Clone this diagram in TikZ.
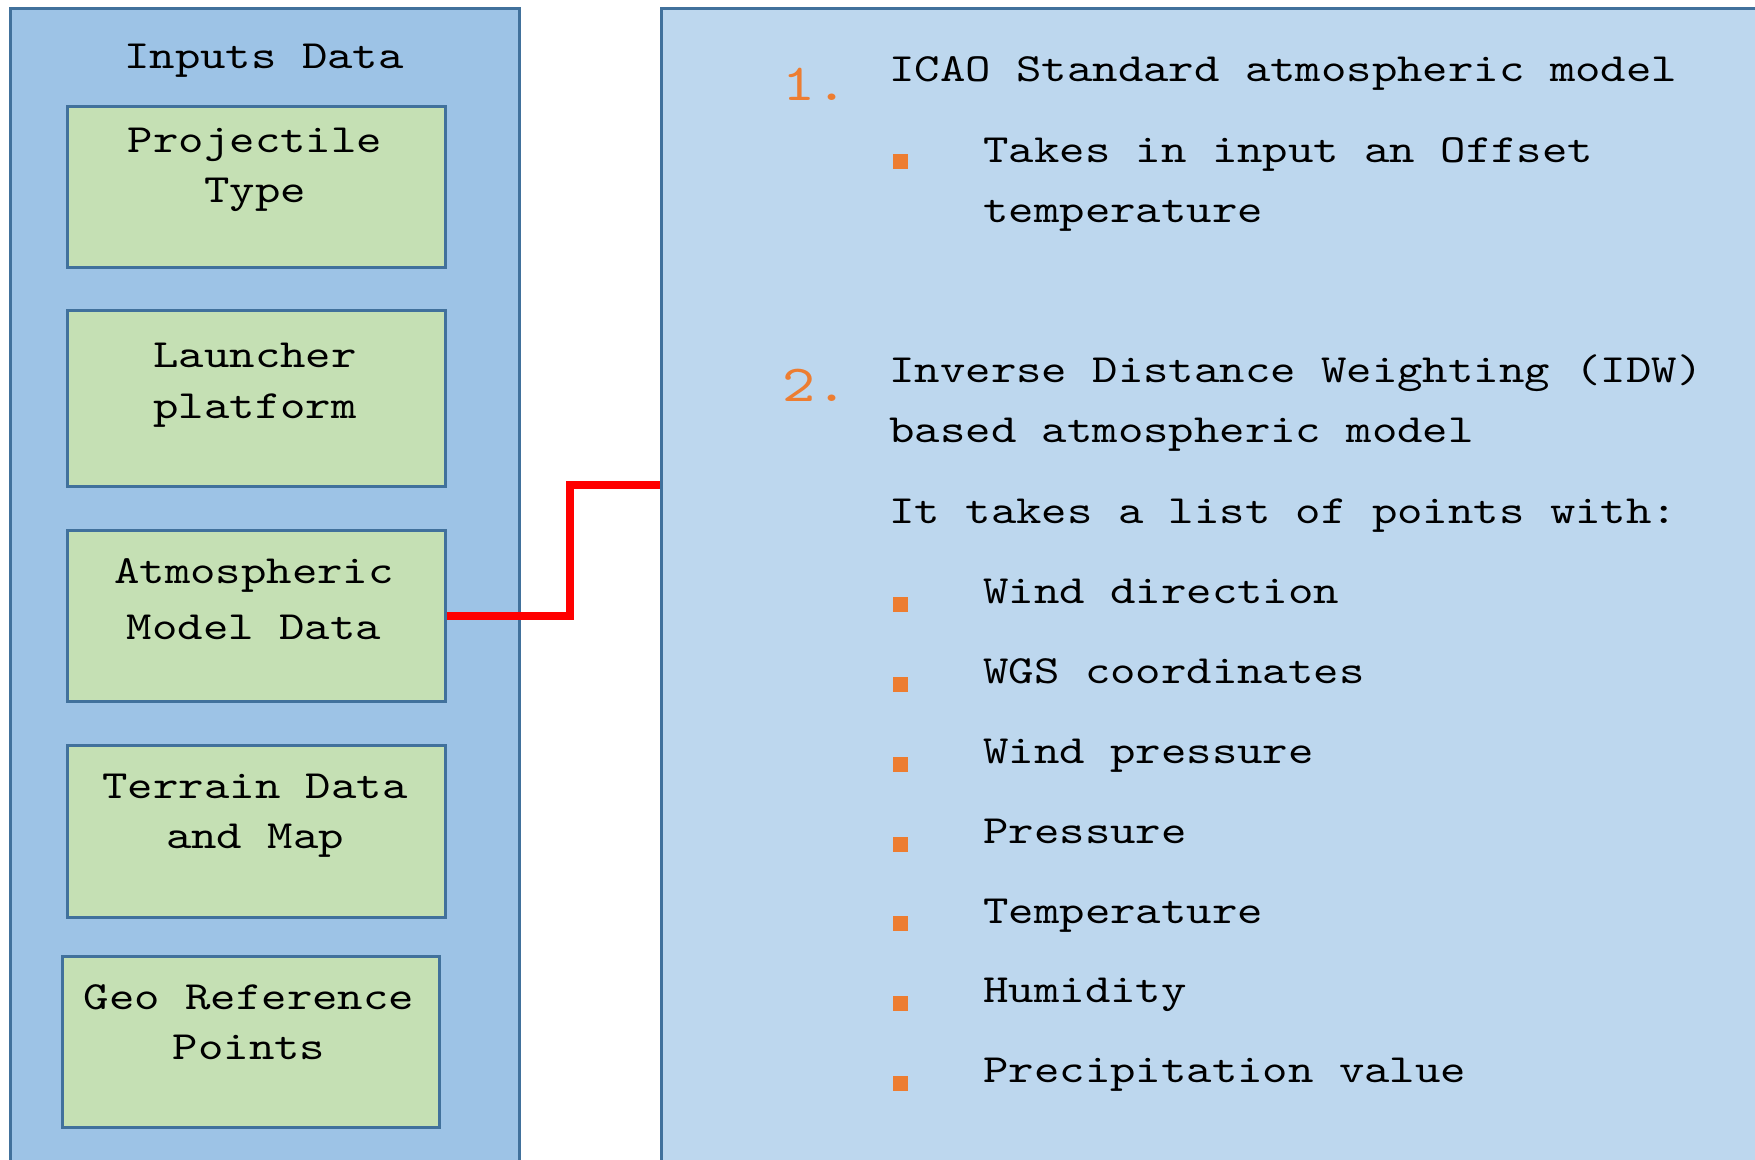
\documentclass[tikz,border=0pt]{standalone}
\usepackage{fontspec}
\setmonofont{lmmono10-regular.otf}[FakeStretch=1.21]
\definecolor{paneldark}{HTML}{9DC3E6}
\definecolor{panellight}{HTML}{BDD7EE}
\definecolor{itemgreen}{HTML}{C5E0B4}
\definecolor{edgeblue}{HTML}{41719C}
\definecolor{accent}{HTML}{ED7D31}
\begin{document}
\begin{tikzpicture}[x=0.5pt,y=-0.5pt,
  panel/.style={draw=edgeblue, line width=1.3pt, rectangle, anchor=north west, inner sep=0pt},
  itembox/.style={draw=edgeblue, line width=1.3pt, fill=itemgreen, rectangle, anchor=north west,
    inner sep=0pt, minimum width=189pt},
  lbl/.style={font=\fontsize{20}{25}\selectfont\ttfamily, align=center, anchor=base, inner sep=0pt},
  txt/.style={font=\fontsize{20}{25}\selectfont\ttfamily, anchor=base west, inner sep=0pt},
  num/.style={font=\fontsize{26}{30}\selectfont\ttfamily, text=accent, anchor=base west, inner sep=0pt},
  sq/.style={fill=accent, rectangle, inner sep=0pt, minimum size=7.5pt},
  link/.style={draw=red, line width=4pt}]
\useasboundingbox (0,0) rectangle (1755,1160);
\clip (0,0) rectangle (1755,1160);
\fill[white] (0,0) rectangle (1755,1160);

% the two panels
\node[panel, fill=paneldark, minimum width=254.5pt, minimum height=590pt] (lpanel) at (9,7) {};
\node[panel, fill=panellight, minimum width=560pt, minimum height=590pt] (rpanel) at (660,7) {};

% input items (label nodes are placed by the baseline of their last line)
\node[lbl] (title) at (264,69) {Inputs Data};
\node[itembox, minimum height=80.5pt] (proj) at (66,105) {};
\node[lbl] (projt) at (255,203) {Projectile\\Type};
\node[itembox, minimum height=88pt] (laun) at (66,309) {};
\node[lbl] (launt) at (255,418) {Launcher\\platform};
\node[itembox, minimum height=85.5pt] (atm) at (66,529) {};
\node[lbl, font=\fontsize{20}{28}\selectfont\ttfamily] (atmt) at (254,639) {Atmospheric\\Model Data};
\node[itembox, minimum height=86pt] (terr) at (66,744) {};
\node[lbl] (terrt) at (255,848) {Terrain Data\\and Map};
\node[itembox, minimum width=188.5pt, minimum height=85.5pt] (geo) at (61,955) {};
\node[lbl] (geot) at (249,1059) {Geo Reference\\Points};

% connector from the atmospheric item to the model panel
\coordinate (bend) at (570,485);
\draw[link] (atm.east) -| (bend) -- (bend -| rpanel.west);

% model descriptions
\node[num] (n1) at (782,101) {1.};
\node[txt] (icao) at (889,82) {ICAO Standard atmospheric model};
\node[sq] (b0) at (900.5,162) {};
\node[txt] (off1) at (983,163) {Takes in input an Offset};
\node[txt] (off2) at (983,223) {temperature};

\node[num] (n2) at (782,401) {2.};
\node[txt] (idw1) at (889,383) {Inverse Distance Weighting (IDW)};
\node[txt] (idw2) at (889,443) {based atmospheric model};
\node[txt] (idw3) at (889,523) {It takes a list of points with:};

\node[sq] (b1) at (900.5,604.5) {};
\node[txt] (p1) at (983,603) {Wind direction};
\node[sq] (b2) at (900.5,684.5) {};
\node[txt] (p2) at (983,683) {WGS coordinates};
\node[sq] (b3) at (900.5,764.5) {};
\node[txt] (p3) at (983,763) {Wind pressure};
\node[sq] (b4) at (900.5,844.5) {};
\node[txt] (p4) at (983,843) {Pressure};
\node[sq] (b5) at (900.5,923.5) {};
\node[txt] (p5) at (983,923) {Temperature};
\node[sq] (b6) at (900.5,1003.5) {};
\node[txt] (p6) at (983,1002) {Humidity};
\node[sq] (b7) at (900.5,1083.5) {};
\node[txt] (p7) at (983,1082) {Precipitation value};
\end{tikzpicture}
\end{document}
